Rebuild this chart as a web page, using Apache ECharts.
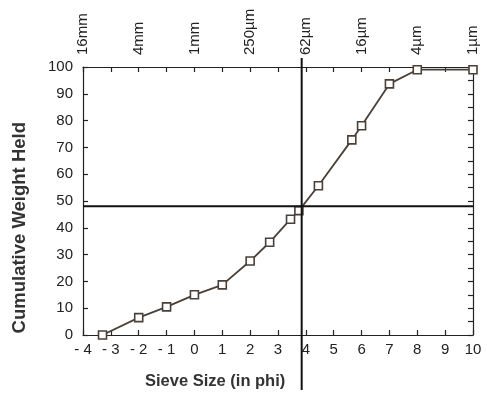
<!DOCTYPE html>
<html><head><meta charset="utf-8">
<script src="https://cdn.jsdelivr.net/npm/echarts@6/dist/echarts.min.js"></script>
<style>html,body{margin:0;padding:0;background:#fff}#c{width:487px;height:399px}</style>
</head><body><div id="c"></div>
<script>
// Data
var phi = [-3.3, -2, -1, 0, 1, 2, 2.7, 3.45, 3.75, 4.45, 5.65, 6, 7, 8, 10];
var weight = [0, 6.5, 10.5, 15, 18.7, 27.6, 34.6, 43.2, 46.4, 55.7, 72.8, 78.1, 93.7, 99, 99];
var topPhi = [-4, -2, 0, 2, 4, 6, 8, 10];
var topLabels = ['16mm', '4mm', '1mm', '250µm', '62µm', '16µm', '4µm', '1µm'];
var medianPhi = 3.85;
var medianWeight = 48;
var vLineY = [-20.5, 103.4];

var font = 'Liberation Sans, Arial, Helvetica, sans-serif';
var chart = echarts.init(document.getElementById('c'), null, {renderer: 'canvas'});
var axisLine = {show: true, onZero: false, lineStyle: {color: '#222', width: 1.2}};
var tick = {show: true, inside: true, length: 5, lineStyle: {color: '#222', width: 1.2}};

chart.setOption({
  backgroundColor: '#fff',
  animation: false,
  grid: {left: 83, right: 14, top: 67, bottom: 64},
  xAxis: [{
    type: 'value', position: 'bottom', min: -4, max: 10, interval: 1,
    axisLine: axisLine, axisTick: tick, splitLine: {show: false},
    axisLabel: {color: '#222', fontSize: 15, fontFamily: font, margin: 7,
      formatter: function (v) { return v < 0 ? '- ' + Math.abs(v) : String(v); }}
  }, {
    type: 'value', position: 'top', min: -4, max: 10, interval: 1,
    axisLine: axisLine, axisTick: tick, splitLine: {show: false},
    axisLabel: {color: '#222', fontSize: 15, fontFamily: font, rotate: -90, margin: 12,
      formatter: function (v) { var i = topPhi.indexOf(v); return i >= 0 ? topLabels[i] : ''; }}
  }],
  yAxis: [{
    type: 'value', position: 'left', min: 0, max: 100, interval: 10,
    axisLine: axisLine, axisTick: tick, splitLine: {show: false},
    axisLabel: {color: '#222', fontSize: 15, fontFamily: font, margin: 10}
  }, {
    type: 'value', position: 'right', min: 0, max: 100, interval: 5,
    axisLine: axisLine, axisTick: tick, splitLine: {show: false},
    axisLabel: {show: false}
  }],
  graphic: [{
    type: 'text', left: 10, top: 122, rotation: Math.PI / 2,
    style: {text: 'Cumulative Weight Held', font: 'bold 18.5px ' + font, fill: '#333'}
  }, {
    type: 'text', left: 145, top: 373,
    style: {text: 'Sieve Size (in phi)', font: 'bold 16.5px ' + font, fill: '#333'}
  }],
  series: [{
    type: 'line', xAxisIndex: 0, yAxisIndex: 0,
    data: phi.map(function (p, i) { return [p, weight[i]]; }),
    symbol: 'rect', symbolSize: 8, showSymbol: true, clip: false,
    lineStyle: {color: '#4a4038', width: 1.8},
    itemStyle: {color: '#fff', borderColor: '#4a4038', borderWidth: 1.6},
    z: 3
  }, {
    type: 'line', xAxisIndex: 0, yAxisIndex: 0, silent: true, clip: false,
    data: [[-4, medianWeight], [10, medianWeight]], symbol: 'none',
    lineStyle: {color: '#111', width: 2}, z: 4
  }, {
    type: 'line', xAxisIndex: 0, yAxisIndex: 0, silent: true, clip: false,
    data: [[medianPhi, vLineY[0]], [medianPhi, vLineY[1]]], symbol: 'none',
    lineStyle: {color: '#111', width: 2}, z: 4
  }]
});
</script></body></html>
